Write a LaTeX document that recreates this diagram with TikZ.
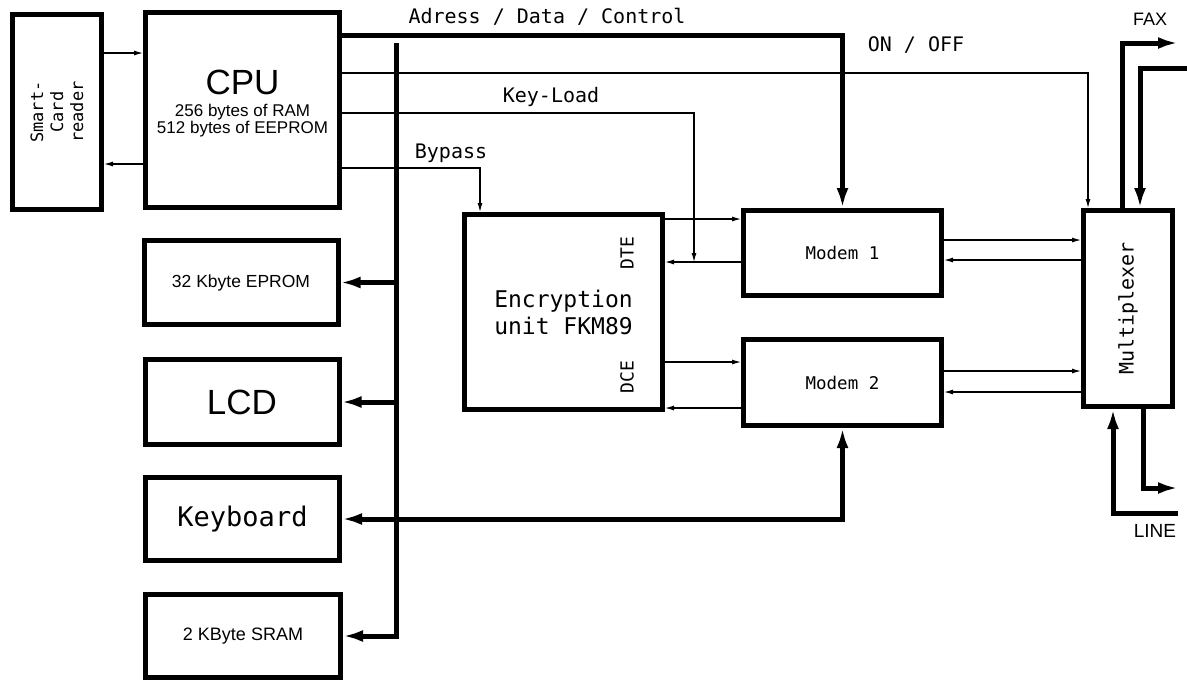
\documentclass[tikz,border=0pt]{standalone}
\usepackage{fontspec}
\setmainfont{Liberation Sans}
\newfontfamily\monofont{DejaVu Sans Mono}
\usetikzlibrary{arrows.meta}

\tikzset{
  blk/.style={draw,line width=5pt,inner sep=0pt,align=center},
  bus/.style={line width=5pt,>={Latex[length=20pt,width=12pt]},->},
  sig/.style={line width=1.1pt,-{Latex[length=9pt,width=5pt]}},
  mono/.style 2 args={font=\monofont\fontsize{#1}{#2}\selectfont},
  sans/.style={font=\fontsize{#1}{#1}\selectfont},
}

\begin{document}
\begin{tikzpicture}[x=1pt,y=-1pt,line cap=butt,line join=miter]
  \path[use as bounding box] (0,0) rectangle (1187,681);

  % levels of the signal lines
  \coordinate (yCardIn)  at (0,53);
  \coordinate (yCardOut) at (0,164);
  \coordinate (yAdr)     at (0,35);
  \coordinate (yOnOff)   at (0,73);
  \coordinate (yKey)     at (0,113);
  \coordinate (yBypass)  at (0,168);
  \coordinate (yDteTx)   at (0,219);
  \coordinate (yDteRx)   at (0,262);
  \coordinate (yDceTx)   at (0,362);
  \coordinate (yDceRx)   at (0,408);
  \coordinate (yM1Tx)    at (0,240);
  \coordinate (yM1Rx)    at (0,260);
  \coordinate (yM2Tx)    at (0,371);
  \coordinate (yM2Rx)    at (0,392);
  \coordinate (xKey)     at (694,0);
  \coordinate (xBypass)  at (480,0);
  \coordinate (xOnOff)   at (1088,0);
  \coordinate (busTop)   at (396,43);

  % blocks
  \node[blk,minimum width=89,minimum height=195,
        label={[mono={17}{20},rotate=90,align=center]center:Smart-\\Card\\reader}]
    (card) at (57,112) {};
  \node[blk,minimum width=194,minimum height=195,sans=17] (cpu) at (242.5,110)
    {{\fontsize{35}{35}\selectfont CPU}\\[5pt]256 bytes of RAM\\512 bytes of EEPROM\rule[-16pt]{0pt}{16pt}};
  \node[blk,minimum width=194,minimum height=84,sans=17.5] (eprom) at (241,282.5) {32 Kbyte EPROM};
  \node[blk,minimum width=194,minimum height=85,sans=35] (lcd) at (242,402) {LCD};
  \node[blk,minimum width=194,minimum height=83,mono={27}{27}] (kbd) at (242.5,519) {Keyboard};
  \node[blk,minimum width=195,minimum height=83,sans=18] (sram) at (243,636) {2 KByte SRAM};
  \node[blk,minimum width=198,minimum height=195,mono={23}{27}] (enc) at (563.5,312)
    {Encryption\\unit FKM89};
  \node[mono={18}{18},rotate=90] (dte) at (627,253) {DTE};
  \node[mono={18}{18},rotate=90] (dce) at (627,377) {DCE};
  \node[blk,minimum width=198,minimum height=85,mono={17.5}{18}] (modem1) at (842.5,253) {Modem 1};
  \node[blk,minimum width=198,minimum height=86,mono={17.5}{18}] (modem2) at (842.5,382.5) {Modem 2};
  \node[blk,minimum width=89,minimum height=196,
        label={[mono={20}{20},rotate=90]center:Multiplexer}]
    (mux) at (1128,308.5) {};

  % labels
  \node[mono={20}{24}] (adrLbl) at (547,17) {Adress / Data / Control};
  \node[mono={20}{24}] (onLbl) at (916,45) {ON / OFF};
  \node[mono={20}{24}] (keyLbl) at (551,97) {Key-Load};
  \node[mono={20}{24}] (bypLbl) at (451,153) {Bypass};
  \node[sans=18] (faxLbl) at (1150,19) {FAX};
  \node[sans=19] (lineLbl) at (1155,531) {LINE};

  % smart card
  \draw[sig] (card.east |- yCardIn) -- (cpu.west |- yCardIn);
  \draw[sig] (cpu.west |- yCardOut) -- (card.east |- yCardOut);

  % cpu control lines
  \draw[bus] (cpu.east |- yAdr) -| (modem1.north);
  \draw[sig] (cpu.east |- yOnOff) -| (mux.north -| xOnOff);
  \draw[sig] (cpu.east |- yKey) -| (xKey |- yDteRx);
  \draw[sig] (cpu.east |- yBypass) -| (enc.north -| xBypass);

  % memory bus
  \draw[bus] (busTop) |- (sram.east);
  \draw[bus] (busTop |- eprom.east) -- (eprom.east);
  \draw[bus] (busTop |- lcd.east) -- (lcd.east);
  \draw[bus,<->] (kbd.east) -| (modem2.south);

  % encryption unit <-> modems
  \draw[sig] (enc.east |- yDteTx) -- (modem1.west |- yDteTx);
  \draw[sig] (modem1.west |- yDteRx) -- (enc.east |- yDteRx);
  \draw[sig] (enc.east |- yDceTx) -- (modem2.west |- yDceTx);
  \draw[sig] (modem2.west |- yDceRx) -- (enc.east |- yDceRx);

  % modems <-> multiplexer
  \draw[sig] (modem1.east |- yM1Tx) -- (mux.west |- yM1Tx);
  \draw[sig] (mux.west |- yM1Rx) -- (modem1.east |- yM1Rx);
  \draw[sig] (modem2.east |- yM2Tx) -- (mux.west |- yM2Tx);
  \draw[sig] (mux.west |- yM2Rx) -- (modem2.east |- yM2Rx);

  % fax and line
  \coordinate (faxTurn) at (1122,43);
  \coordinate (faxOut)  at (1178,43);
  \coordinate (faxIn)   at (1187,68);
  \coordinate (faxDrop) at (1140,68);
  \draw[bus] (mux.north -| faxTurn) -- (faxTurn) -- (faxOut);
  \draw[bus] (faxIn) -- (faxDrop) -- (faxDrop |- mux.north);
  \coordinate (lineIn)   at (1178,513);
  \coordinate (lineRise) at (1113,513);
  \coordinate (lineDrop) at (1143,488);
  \coordinate (lineOut)  at (1178,488);
  \draw[bus] (lineIn) -- (lineRise) -- (lineRise |- mux.south);
  \draw[bus] (mux.south -| lineDrop) -- (lineDrop) -- (lineOut);
\end{tikzpicture}
\end{document}
